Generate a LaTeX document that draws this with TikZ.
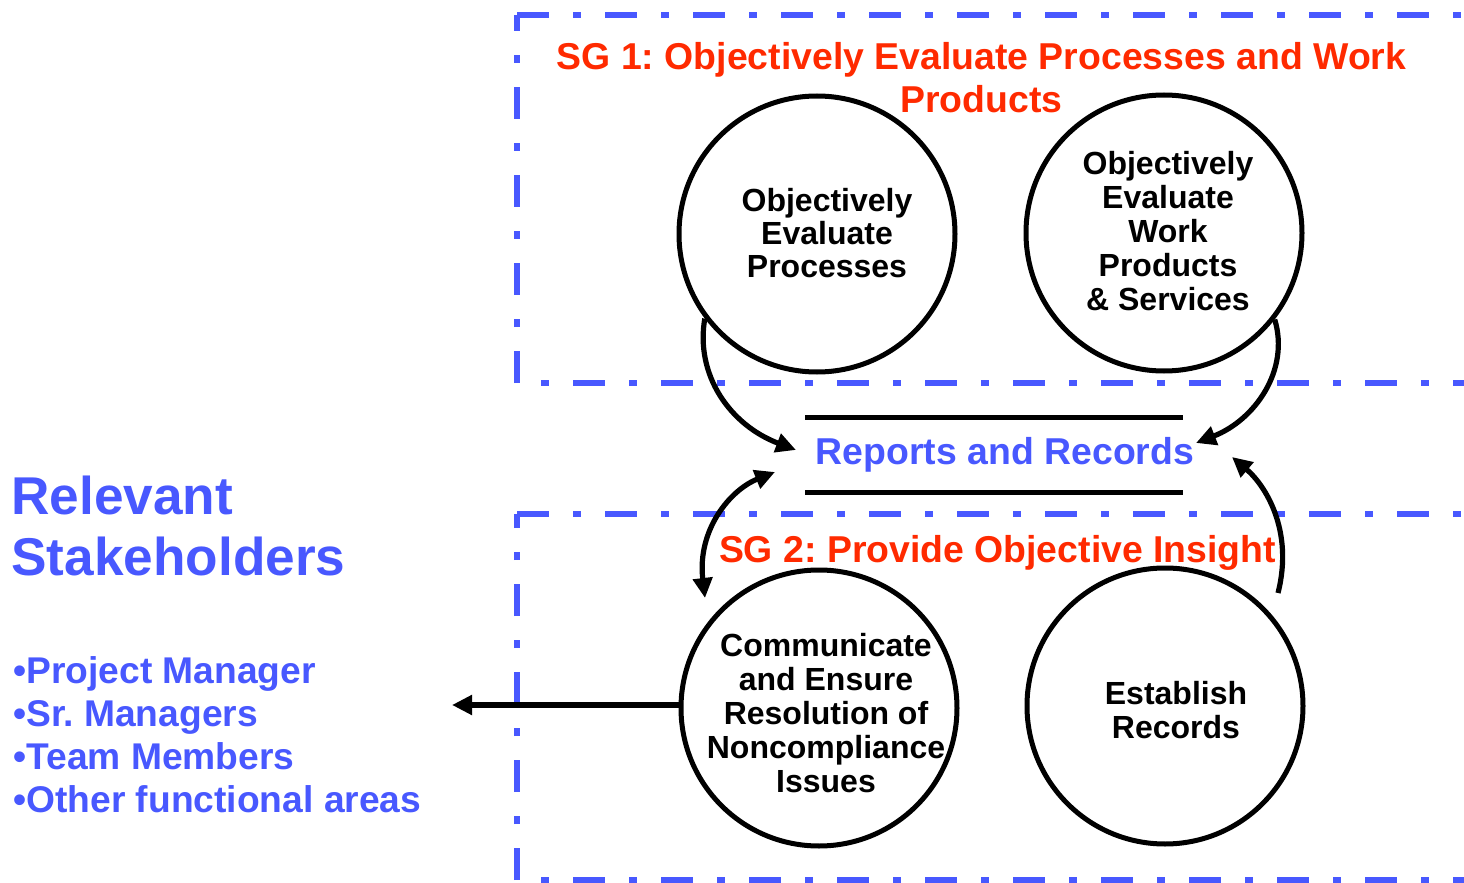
\documentclass[tikz,border=0pt]{standalone}
\usepackage{fontspec}
\setmainfont{Liberation Sans}
\usetikzlibrary{arrows.meta}
\definecolor{tblue}{RGB}{72,88,255}
\definecolor{tred}{RGB}{255,42,0}
\frenchspacing
\begin{document}
\begin{tikzpicture}[x=0.5pt,y=-0.5pt,
  box/.style={draw=tblue,line width=3.2pt,dash pattern=on 16pt off 12pt on 4pt off 12pt},
  circ/.style={draw,circle,line width=2.5pt,minimum size=138pt,inner sep=0pt},
  ctext/.style={font=\fontsize{16}{17}\selectfont\bfseries,align=center,inner sep=0pt,anchor=base},
  title/.style={font=\fontsize{18.7}{21.5}\selectfont\bfseries,text=tred,align=center,inner sep=0pt,anchor=base},
  btext/.style={font=\fontsize{18.6}{21.35}\selectfont\bfseries,text=tblue,align=left,inner sep=0pt,anchor=base west},
  conn/.style={line width=2.6pt,-{Triangle[length=10pt,width=9.5pt]}},
  dconn/.style={line width=2.6pt,{Triangle[length=10pt,width=9.5pt]}-{Triangle[length=10pt,width=9.5pt]}},
]
\useasboundingbox (0,0) rectangle (1464,883);
\clip (0,0) rectangle (1464,883);

% dash-dot frames
\draw[box] (517,15) -- (1530,15);
\draw[box] (517,383) -- (517,15);
\draw[box,dash phase=16pt] (517,383) -- (1530,383);
\draw[box] (517,514) -- (1530,514);
\draw[box] (517,880) -- (517,514);
\draw[box,dash phase=16pt] (517,880) -- (1530,880);

% titles (base anchor = baseline of last line)
\node[title] (sg1) at (981.5,113) {SG 1: Objectively Evaluate Processes and Work\\Products};
\node[title] (sg2) at (997.5,562) {SG 2: Provide Objective Insight};

% circles
\node[circ] (c1) at (817,234) {};
\node[circ] (c2) at (1164,233) {};
\node[circ] (c3) at (819,708) {};
\node[circ] (c4) at (1165,706) {};

\node[ctext,font=\fontsize{16}{16.5}\selectfont\bfseries] (t1) at (827,278) {Objectively\\Evaluate\\Processes};
\node[ctext] (t2) at (1168,310) {Objectively\\Evaluate\\Work\\Products\\\& Services};
\node[ctext] (t3) at (826,792) {Communicate\\and Ensure\\Resolution of\\Noncompliance\\Issues};
\node[ctext] (t4) at (1176,738) {Establish\\Records};

% reports and records store
\node[minimum width=188.5pt,minimum height=37pt,inner sep=0pt] (rep) at (994,455) {};
\draw[line width=2.5pt] (rep.north west) -- (rep.north east);
\draw[line width=2.5pt] (rep.south west) -- (rep.south east);
\node[font=\fontsize{18.7}{21.5}\selectfont\bfseries,text=tblue,inner sep=0pt,anchor=base] (rept) at (1005,464) {Reports and Records};

% stakeholders
\node[font=\fontsize{26.6}{30.5}\selectfont\bfseries,text=tblue,align=left,inner sep=0pt,anchor=base west] (rs) at (11,575) {Relevant\\Stakeholders};
\node[btext] (bl) at (13,812) {•Project Manager\\•Sr. Managers\\•Team Members\\•Other functional areas};

% connector ends
\coordinate (a1e) at (796,450);
\coordinate (a2e) at (1196,443);
\coordinate (a3s) at (705,598);
\coordinate (a3e) at (775,472);
\coordinate (a4s) at (1278,593);
\coordinate (a4e) at (1232,457);
\coordinate (a5e) at (452,705);

\draw[conn] (c1.217) .. controls (695,375) and (730,425) .. (a1e);
\draw[conn] (c2.322) .. controls (1290,370) and (1255,420) .. (a2e);
\draw[dconn] (a3s) .. controls (697,530) and (730,490) .. (a3e);
\draw[conn] (a4s) .. controls (1294,530) and (1265,485) .. (a4e);
\draw[conn] (c3.west |- a5e) -- (a5e);
\end{tikzpicture}
\end{document}
